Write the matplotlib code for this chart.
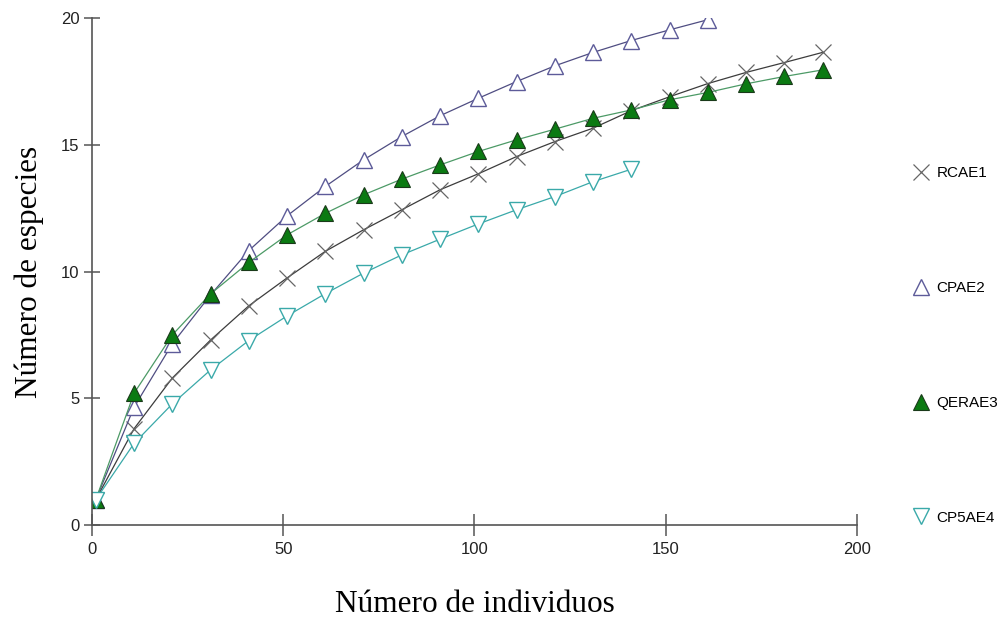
"""
Curvas de rarefacción: número de especies vs número de individuos
"""
import matplotlib
matplotlib.use('Agg')
import matplotlib.pyplot as plt
from matplotlib.lines import Line2D

# Individuos muestreados (cada 10)
x_rcae1 = [1, 11, 21, 31, 41, 51, 61, 71, 81, 91, 101, 111, 121, 131, 141, 151, 161, 171, 181, 191]
y_rcae1 = [1.0, 3.8, 5.8, 7.3, 8.65, 9.75, 10.8, 11.65, 12.44, 13.23, 13.86, 14.54, 15.13, 15.66,
           16.35, 16.9, 17.42, 17.86, 18.25, 18.65]

x_cpae2 = [1, 11, 21, 31, 41, 51, 61, 71, 81, 91, 101, 111, 121, 131, 141, 151, 161]
y_cpae2 = [1.0, 4.65, 7.15, 9.08, 10.83, 12.2, 13.36, 14.41, 15.33, 16.15, 16.84, 17.5, 18.12,
           18.65, 19.12, 19.54, 19.94]

x_qerae3 = [1, 11, 21, 31, 41, 51, 61, 71, 81, 91, 101, 111, 121, 131, 141, 151, 161, 171, 181, 191]
y_qerae3 = [1.0, 5.2, 7.5, 9.12, 10.36, 11.45, 12.3, 13.03, 13.65, 14.21, 14.74, 15.2, 15.62, 16.05,
            16.38, 16.78, 17.07, 17.41, 17.7, 17.96]

x_cp5ae4 = [1, 11, 21, 31, 41, 51, 61, 71, 81, 91, 101, 111, 121, 131, 141]
y_cp5ae4 = [1.0, 3.22, 4.78, 6.12, 7.28, 8.25, 9.13, 9.94, 10.66, 11.28, 11.88, 12.44, 12.96,
            13.55, 14.04]

labels = ['RCAE1', 'CPAE2', 'QERAE3', 'CP5AE4']
x_ticks = [0, 50, 100, 150, 200]
y_ticks = [0, 5, 10, 15, 20]

sans = ['Liberation Sans Narrow', 'Liberation Sans', 'DejaVu Sans']
serif = ['Liberation Serif', 'DejaVu Serif']

# Estilo de cada serie: (color de línea, marcador)
styles = [
    dict(color='#3c3c3c', marker='x', markersize=11, markeredgecolor='#666666',
         markeredgewidth=0.9),
    dict(color='#4f4d82', marker='^', markersize=11, markerfacecolor='white',
         markeredgecolor='#5d5b99', markeredgewidth=1.0),
    dict(color='#4c9a66', marker='^', markersize=11, markerfacecolor='#0b7a12',
         markeredgecolor='#1a3a1a', markeredgewidth=0.8),
    dict(color='#3aa9a9', marker='v', markersize=11, markerfacecolor='white',
         markeredgecolor='#3aa9a9', markeredgewidth=1.0),
]

series = [(x_rcae1, y_rcae1), (x_cpae2, y_cpae2), (x_qerae3, y_qerae3), (x_cp5ae4, y_cp5ae4)]

fig = plt.figure(figsize=(10.03, 6.28), dpi=100)
ax = fig.add_axes([0.0917, 0.164, 0.7627, 0.807])

for (xs, ys), st in zip(series, styles):
    ax.plot(xs, ys, linewidth=0.9, **st)

ax.set_xlim(0, 200)
ax.set_ylim(0, 20)
ax.set_xticks(x_ticks)
ax.set_yticks(y_ticks)
ax.spines['top'].set_visible(False)
ax.spines['right'].set_visible(False)
for s in ('left', 'bottom'):
    ax.spines[s].set_color('#555555')
    ax.spines[s].set_linewidth(1.2)
ax.tick_params(axis='x', direction='inout', length=16, width=1.1, color='#555555', pad=4)
ax.tick_params(axis='y', direction='inout', length=12, width=1.1, color='#555555', pad=3)
for lbl in ax.get_xticklabels() + ax.get_yticklabels():
    lbl.set_family(sans)
    lbl.set_fontsize(12)
    lbl.set_color('#222222')

ax.set_xlabel('Número de individuos', family=serif, fontsize=22.5, labelpad=24)
ax.set_ylabel('Número de especies', family=serif, fontsize=22.5, labelpad=12)

# Leyenda solo con marcadores
handles = []
for st in styles:
    h = dict(st)
    h.pop('color')
    if 'markerfacecolor' not in h:
        h['color'] = h['markeredgecolor']
    handles.append(Line2D([], [], linestyle='none', **h))

fig.legend(handles, labels, loc='upper left', bbox_to_anchor=(0.905, 0.745),
           frameon=False, prop={'family': sans, 'size': 11}, labelspacing=6.6,
           handlelength=1.0, handletextpad=0.5, borderaxespad=0)

plt.savefig('out.png', dpi=100)
plt.close()
